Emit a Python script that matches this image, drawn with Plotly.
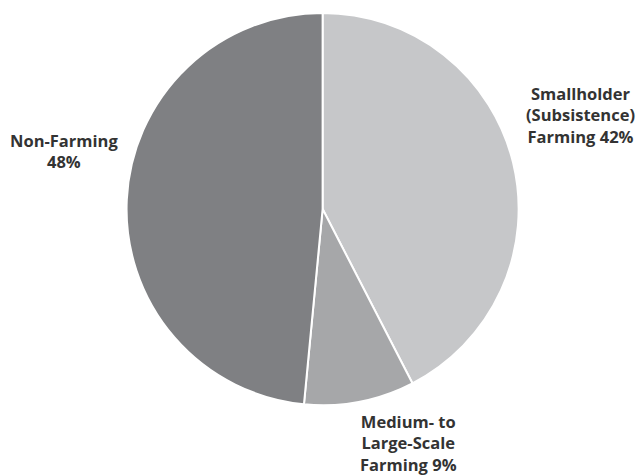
import plotly.graph_objects as go

categories = ["Smallholder (Subsistence) Farming", "Medium- to Large-Scale Farming", "Non-Farming"]
label_lines = [["Smallholder", "(Subsistence)", "Farming"], ["Medium- to", "Large-Scale", "Farming"], ["Non-Farming"]]
values = [42, 9, 48]
colors = ["#c6c7c9", "#a6a7a9", "#7f8083"]

fig = go.Figure(go.Pie(
    labels=categories, values=values, sort=False, direction="clockwise", rotation=0,
    marker=dict(colors=colors, line=dict(color="white", width=2)),
    textinfo="none", hoverinfo="label+percent",
    domain=dict(x=[0.197, 0.808], y=[0.149, 0.9727]),
    showlegend=False,
))

label_pos = [(580, 115), (408, 443), (64, 151)]
for lines, v, (px, py) in zip(label_lines, values, label_pos):
    if len(lines) == 1:
        txt = lines[0] + "<br>" + f"{v}%"
    else:
        txt = "<br>".join(lines[:-1] + [lines[-1] + f" {v}%"])
    fig.add_annotation(
        x=px / 642, y=1 - py / 476, xref="paper", yref="paper",
        text="<b>" + txt + "</b>", showarrow=False, xanchor="center", yanchor="middle",
        font=dict(family="Open Sans", size=16.5, color="#333333"), align="center",
    )

fig.update_layout(width=642, height=476, margin=dict(l=0, r=0, t=0, b=0),
                  paper_bgcolor="white", plot_bgcolor="white")
fig.write_html("out.html")
